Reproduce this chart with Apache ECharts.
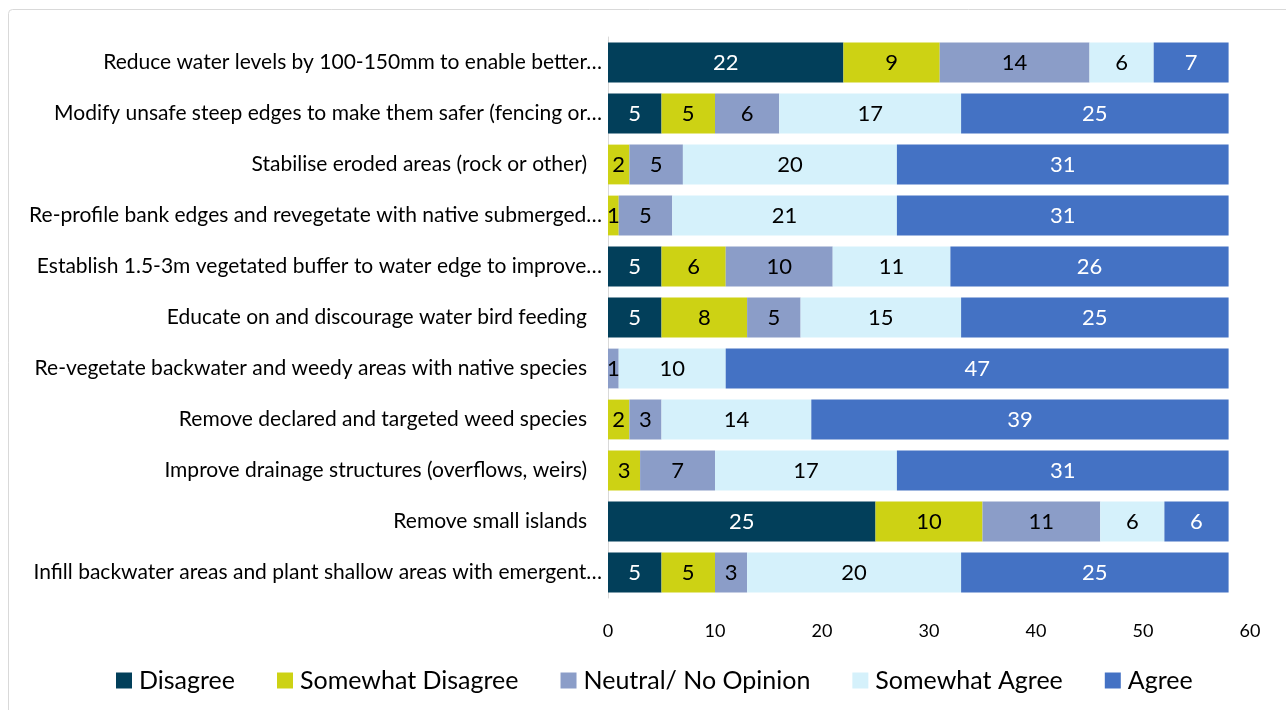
<!DOCTYPE html>
<html>
<head>
<meta charset="utf-8">
<script src="https://cdn.jsdelivr.net/npm/echarts@6/dist/echarts.min.js"></script>
<style>html,body{margin:0;padding:0;background:#fff;}#c{width:1286px;height:710px;}</style>
</head>
<body>
<div id="c"></div>
<script>
const categories = [
  "Reduce water levels by 100-150mm to enable better…",
  "Modify unsafe steep edges to make them safer (fencing or…",
  "Stabilise eroded areas (rock or other)",
  "Re-profile bank edges and revegetate with native submerged…",
  "Establish 1.5-3m vegetated buffer to water edge to improve…",
  "Educate on and discourage water bird feeding",
  "Re-vegetate backwater and weedy areas with native species",
  "Remove declared and targeted weed species",
  "Improve drainage structures (overflows, weirs)",
  "Remove small islands",
  "Infill backwater areas and plant shallow areas with emergent…"
];
const disagree         = [22, 5, 0, 0, 5, 5, 0, 0, 0, 25, 5];
const somewhatDisagree = [9, 5, 2, 1, 6, 8, 0, 2, 3, 10, 5];
const neutral          = [14, 6, 5, 5, 10, 5, 1, 3, 7, 11, 3];
const somewhatAgree    = [6, 17, 20, 21, 11, 15, 10, 14, 17, 6, 20];
const agree            = [7, 25, 31, 31, 26, 25, 47, 39, 31, 6, 25];
const seriesNames = ["Disagree", "Somewhat Disagree", "Neutral/ No Opinion", "Somewhat Agree", "Agree"];
const xTicks = [0, 10, 20, 30, 40, 50, 60];

const colors = ["#023f5a", "#cdd214", "#8b9dc8", "#d5f1fb", "#4472c4"];
const labelColors = ["#ffffff", "#000000", "#000000", "#000000", "#ffffff"];
const dataSets = [disagree, somewhatDisagree, neutral, somewhatAgree, agree];
const FONT = "Lato";

const chart = echarts.init(document.getElementById('c'), null, {renderer: 'canvas'});
chart.setOption({
  animation: false,
  backgroundColor: '#ffffff',
  textStyle: {fontFamily: FONT},
  graphic: [{
    type: 'rect', silent: true, z: -10,
    shape: {x: 8.5, y: 9.5, width: 1300, height: 720, r: 4},
    style: {fill: 'none', stroke: '#d9d9d9', lineWidth: 1}
  }],
  grid: {left: 608, right: 36, top: 37, bottom: 112, containLabel: false},
  xAxis: {
    type: 'value', min: xTicks[0], max: xTicks[xTicks.length - 1], interval: 10,
    axisLine: {show: false}, axisTick: {show: false},
    splitLine: {show: false},
    axisLabel: {color: '#000', fontSize: 18, fontFamily: FONT, margin: 24}
  },
  yAxis: {
    type: 'category', data: categories, inverse: true,
    axisLine: {show: true, lineStyle: {color: '#d9d9d9', width: 1}},
    axisTick: {show: false},
    axisLabel: {
      color: '#000', fontSize: 21, fontFamily: FONT, margin: 6,
      formatter: v => v.endsWith('…') ? '{a|' + v + '}' : '{b|' + v + '}',
      rich: {
        a: {fontSize: 21, fontFamily: FONT, color: '#000'},
        b: {fontSize: 21, fontFamily: FONT, color: '#000', padding: [0, 15, 0, 0]}
      }
    }
  },
  legend: {
    bottom: 12, left: 111,
    itemWidth: 16, itemHeight: 16, itemGap: 42,
    icon: 'rect',
    textStyle: {fontSize: 25, color: '#000', fontFamily: FONT, padding: [0, 0, 0, 2]},
    data: seriesNames
  },
  series: seriesNames.map((name, i) => ({
    name: name, type: 'bar', stack: 'total',
    data: dataSets[i],
    barCategoryGap: '22%',
    itemStyle: {color: colors[i]},
    label: {
      show: true, position: 'inside',
      color: labelColors[i], fontSize: 22, fontFamily: FONT,
      formatter: p => p.value === 0 ? '' : String(p.value)
    }
  }))
});
</script>
</body>
</html>
